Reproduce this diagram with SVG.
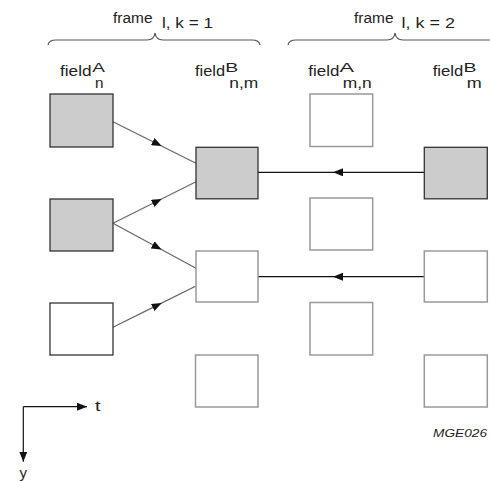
<svg xmlns="http://www.w3.org/2000/svg" width="490" height="481" viewBox="0 0 490 481">
<style>
text{font-family:"Liberation Sans",Arial,sans-serif;fill:#222}
.f{font-size:14px}
.s{font-size:12.5px}
.gray{fill:#cccccc;stroke:#333;stroke-width:1.3}
.wd{fill:#fff;stroke:#333;stroke-width:1.3}
.wl{fill:#fff;stroke:#999;stroke-width:1.5}
.brace{fill:none;stroke:#555;stroke-width:1.2}
.diag{fill:none;stroke:#666;stroke-width:1.2;marker-mid:url(#ah)}
.hor{fill:none;stroke:#111;stroke-width:1.2;marker-mid:url(#ah)}
.ax{fill:none;stroke:#111;stroke-width:1.2;marker-end:url(#ae)}
</style>
<defs>
<marker id="ah" viewBox="0 0 10 8" refX="2" refY="4" markerWidth="10" markerHeight="8" markerUnits="userSpaceOnUse" orient="auto"><path d="M0,0 L10,4 L0,8 Z" fill="#111"/></marker>
<marker id="ae" viewBox="0 0 10 8" refX="10" refY="4" markerWidth="10" markerHeight="8" markerUnits="userSpaceOnUse" orient="auto"><path d="M0,0 L10,4 L0,8 Z" fill="#111"/></marker>
</defs>
<g id="headers">
<text class="f" x="113" y="22.5" textLength="39.5" lengthAdjust="spacingAndGlyphs">frame</text>
<text class="f" x="162" y="28" textLength="51" lengthAdjust="spacingAndGlyphs">l, k = 1</text>
<path class="brace" d="M48,45 Q49,40 56,40 L147,40 Q154,40 155,33 Q156,40 163,40 L252,40 Q259,40 260,45"/>
<text class="f" x="354" y="22.5" textLength="39.5" lengthAdjust="spacingAndGlyphs">frame</text>
<text class="f" x="401.5" y="28" textLength="53.5" lengthAdjust="spacingAndGlyphs">l, k = 2</text>
<path class="brace" d="M288,45 Q289,40 296,40 L387,40 Q394,40 395,33 Q396,40 403,40 L490,40"/>
</g>
<g id="labels">
<text class="f" x="60" y="75.5" textLength="31.5" lengthAdjust="spacingAndGlyphs">field</text>
<text class="s" x="92.3" y="71.8" textLength="12.7" lengthAdjust="spacingAndGlyphs">A</text>
<text class="f" x="95" y="87.5" textLength="8.5" lengthAdjust="spacingAndGlyphs">n</text>
<text class="f" x="195" y="75.5" textLength="30" lengthAdjust="spacingAndGlyphs">field</text>
<text class="s" x="225.3" y="71.8" textLength="13" lengthAdjust="spacingAndGlyphs">B</text>
<text class="f" x="229.3" y="87.5" textLength="29" lengthAdjust="spacingAndGlyphs">n,m</text>
<text class="f" x="308.3" y="75.5" textLength="31" lengthAdjust="spacingAndGlyphs">field</text>
<text class="s" x="339.5" y="71.8" textLength="14.5" lengthAdjust="spacingAndGlyphs">A</text>
<text class="f" x="342.7" y="87.5" textLength="29" lengthAdjust="spacingAndGlyphs">m,n</text>
<text class="f" x="432.7" y="75.5" textLength="30.5" lengthAdjust="spacingAndGlyphs">field</text>
<text class="s" x="463.5" y="71.8" textLength="13" lengthAdjust="spacingAndGlyphs">B</text>
<text class="f" x="466.7" y="87.5" textLength="15" lengthAdjust="spacingAndGlyphs">m</text>
</g>
<g id="connectors">
<path class="diag" d="M113,121.7 L154.5,142.5 L196,163.3"/>
<path class="diag" d="M113,223.3 L154.5,202.5 L196,181.7"/>
<path class="diag" d="M113,223.3 L154.5,245.8 L196,268.3"/>
<path class="diag" d="M113,327.3 L154.5,306.6 L196,286"/>
<path class="hor" d="M424,172.3 L341,172.3 L258,172.3"/>
<path class="hor" d="M424,276.7 L341,276.7 L258,276.7"/>
</g>
<g id="nA1"><rect class="gray" x="50" y="94" width="63" height="53"/></g>
<g id="nA2"><rect class="gray" x="50" y="199" width="63" height="52"/></g>
<g id="nA3"><rect class="wd" x="50" y="303" width="63" height="52"/></g>
<g id="nB1"><rect class="gray" x="196" y="147.3" width="62" height="51.5"/></g>
<g id="nB2"><rect class="wl" x="196" y="251" width="62" height="51"/></g>
<g id="nB3"><rect class="wl" x="195.5" y="355" width="62.5" height="52"/></g>
<g id="nC1"><rect class="wl" x="310" y="94" width="62.7" height="52.5"/></g>
<g id="nC2"><rect class="wl" x="310" y="198" width="62.7" height="52"/></g>
<g id="nC3"><rect class="wl" x="310" y="302.5" width="62.7" height="52.5"/></g>
<g id="nD1"><rect class="gray" x="424.3" y="147.3" width="63" height="51.5"/></g>
<g id="nD2"><rect class="wl" x="424.3" y="251" width="63" height="51"/></g>
<g id="nD3"><rect class="wl" x="424.3" y="355" width="63" height="52"/></g>
<g id="axes">
<path class="ax" d="M23.3,406.7 L87,406.7"/>
<path class="ax" d="M23.3,406.7 L23.3,461.7"/>
<text class="f" x="95" y="411" textLength="5.5" lengthAdjust="spacingAndGlyphs">t</text>
<text class="f" x="19.5" y="478" textLength="7.5" lengthAdjust="spacingAndGlyphs">y</text>
</g>
<text x="433" y="437.3" font-size="10" font-style="italic" textLength="54" lengthAdjust="spacingAndGlyphs">MGE026</text>
</svg>
